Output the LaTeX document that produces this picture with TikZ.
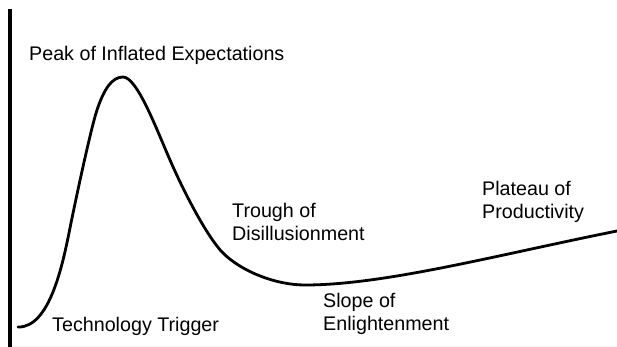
\documentclass[tikz,border=0pt]{standalone}
\usepackage{fontspec}
\setmainfont{Liberation Sans}
\begin{document}
\begin{tikzpicture}[x=1pt,y=-1pt,
  lbl/.style={anchor=base west,inner sep=0pt,align=left,font=\fontsize{19.7}{22.7}\selectfont},
  curve/.style={line width=2.8pt,line cap=round,line join=round},
  axis/.style={line width=4pt}]
\useasboundingbox (0,0) rectangle (617,347);
\coordinate (atop) at (10,9);
\coordinate (abot) at (10,347);
\coordinate (bend) at (617,346);
\draw[gray!10,line width=1pt] (10,346) -- (bend);
\draw[axis] (atop) -- (abot);
\coordinate (s0) at (18,327);
\coordinate (s1) at (70,228);
\coordinate (s2) at (97,110);
\coordinate (pk) at (123,77);
\coordinate (s3) at (170,160);
\coordinate (s4) at (223,253);
\coordinate (tr) at (305,285);
\coordinate (s5) at (617,231);
\draw[curve] (s0) .. controls (50,328) and (63,263) .. (s1)
  .. controls (76,198) and (91,128) .. (s2)
  .. controls (104,89) and (112,77) .. (pk)
  .. controls (137,77) and (156,128) .. (s3)
  .. controls (185,194.5) and (208,238) .. (s4)
  .. controls (241,271) and (275,285) .. (tr)
  .. controls (385,285) and (497,255) .. (s5);
\node[lbl] (peak) at (29,61) {Peak of Inflated Expectations};
\node[lbl] (trig) at (52,331) {Technology Trigger};
\node[lbl] (trough) at (232,240) {Trough of\\Disillusionment};
\node[lbl] (slope) at (323,330) {Slope of\\Enlightenment};
\node[lbl] (plat) at (482,218) {Plateau of\\Productivity};
\end{tikzpicture}
\end{document}
